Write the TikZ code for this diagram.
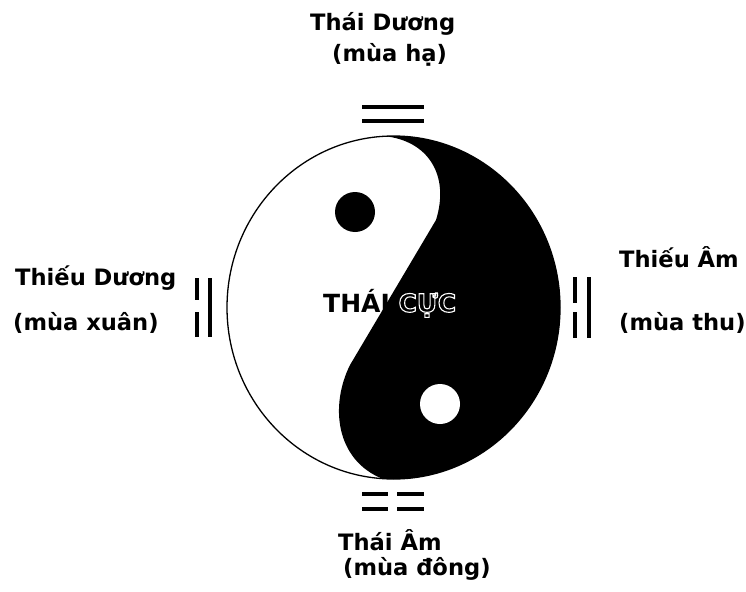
\documentclass[tikz,border=0pt]{standalone}
\usepackage{fontspec}
\setmainfont{DejaVu Sans}
\usetikzlibrary{positioning}
% white outline text (drawn on the black half)
\newcommand{\hollow}[1]{\special{pdf:literal direct 1 Tr 1 1 1 RG 1.1 w}#1\special{pdf:literal direct 0 Tr 0 0 0 RG}}

\begin{document}
\begin{tikzpicture}[
  x=1pt,y=-1pt,
  font=\fontsize{22.6}{26}\selectfont\bfseries,
  lbl/.style={anchor=base west,inner sep=0pt},
  hao/.style={line width=3.5pt},
  ring/.style={draw,line width=1.3pt},
]
\useasboundingbox (0,0) rectangle (746,591);

% --- Thai Cuc: black half ---
\begin{scope}
  \clip (393.5,307.5) ellipse [x radius=166.5,y radius=171.5];
  \fill (383,120) -- (383,136) .. controls (428,140) and (450,175) .. (436,220)
    -- (350,365) .. controls (330,405) and (335,460) .. (383,479)
    -- (383,495) -- (580,495) -- (580,120) -- cycle;
\end{scope}
\draw[ring] (393.5,307.5) ellipse [x radius=166.5,y radius=171.5];
\fill (355,212) circle [radius=20];
\fill[white] (440,404) circle [radius=20];
\node[lbl,font=\fontsize{25}{28}\selectfont\bfseries] (cuc) at (323,312) {THÁI \hollow{CỰC}};

% --- Thai Duong (top) ---
\foreach \y in {107,121} \draw[hao] (362,\y) -- (424,\y);
\node[lbl] (tdTen) at (310,31) {Thái Dương};
\node[lbl] (tdMua) at (332,62) {(mùa hạ)};

% --- Thai Am (bottom) ---
\foreach \y in {494,509} {
  \draw[hao] (362,\y) -- (388,\y);
  \draw[hao] (397,\y) -- (424,\y);
}
\node[lbl] (taTen) at (338,550) {Thái Âm};
\node[lbl] (taMua) at (343,575) {(mùa đông)};

% --- Thieu Duong (left) ---
\draw[hao] (197,278) -- (197,300);
\draw[hao] (197,312) -- (197,337);
\draw[hao] (210,278) -- (210,337);
\node[lbl] (tdgTen) at (15,285) {Thiếu Dương};
\node[lbl] (tdgMua) at (13,330) {(mùa xuân)};

% --- Thieu Am (right) ---
\draw[hao] (575,277) -- (575,303);
\draw[hao] (575,312) -- (575,338);
\draw[hao] (589,277) -- (589,338);
\node[lbl] (tamTen) at (619,267) {Thiếu Âm};
\node[lbl] (tamMua) at (619,330) {(mùa thu)};

\end{tikzpicture}
\end{document}
